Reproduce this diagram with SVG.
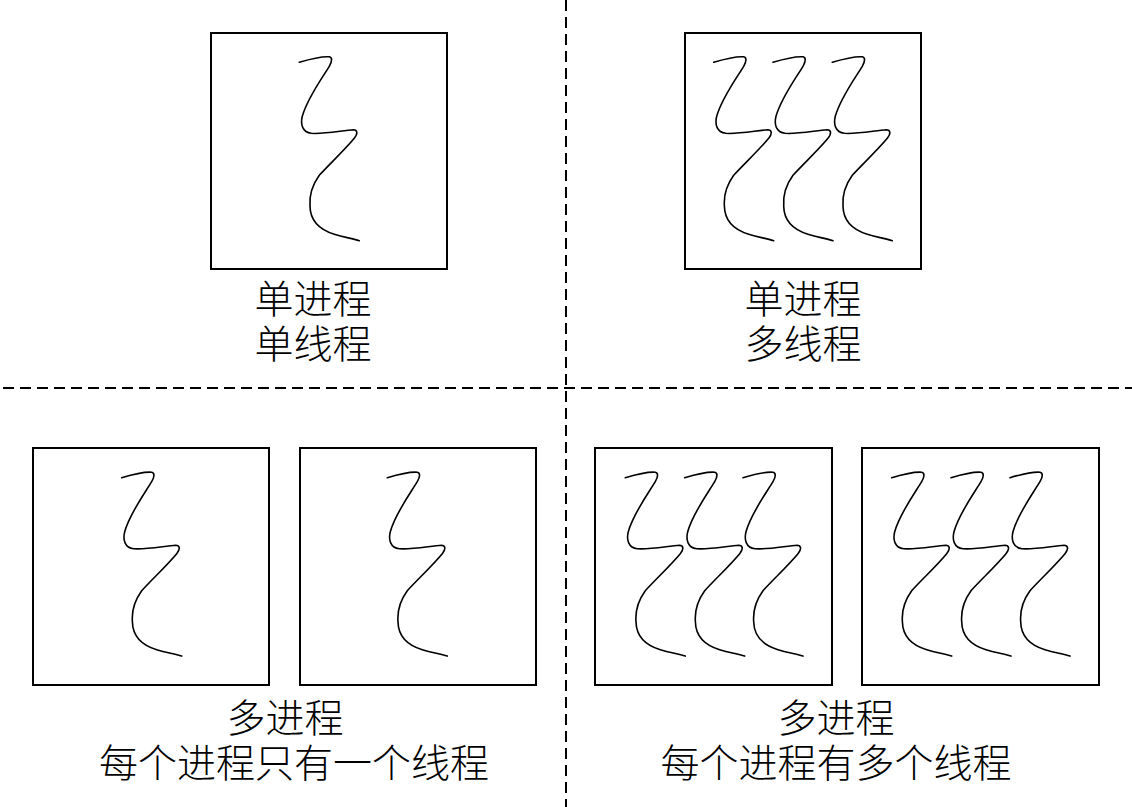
<svg xmlns="http://www.w3.org/2000/svg" xmlns:xlink="http://www.w3.org/1999/xlink" width="1132" height="807" viewBox="0 0 1132 807">
<style>
.box{fill:#fff;stroke:#000;stroke-width:2}
.th{fill:none;stroke:#000;stroke-width:1.6;stroke-linecap:round;stroke-linejoin:round}
.div{stroke:#000;stroke-width:2;stroke-dasharray:11,6}
.lbl{font-family:"Liberation Serif","Noto Sans CJK SC",serif;font-size:39px;font-weight:300;fill:#000;text-anchor:middle}
</style>
<defs>
<path id="thread" class="th" d="M0,0 C10,-3 24,-6 30,-5.5 C33,-5 33,-1 30,4 C22,17 8,36 3,54 C1,62 3,70 12,71 C25,72 44,68 54,67.5 C58,67.5 59,71 55,76 C45,88 30,102 20,113 C12,124 10,135 10.7,144 C11,160 22,168 35,172 C45,175 52,176 60,178.4"/>
</defs>
<rect width="1132" height="807" fill="#fff"/>
<g id="dividers">
<line class="div" x1="566" y1="0" x2="566" y2="807"/>
<line class="div" x1="3" y1="388" x2="1132" y2="388"/>
</g>
<g id="p1">
<rect class="box" x="211" y="33" width="236" height="236"/>
<use xlink:href="#thread" href="#thread" x="299.3" y="62.3"/>
<text class="lbl" x="313" y="313">单进程</text>
<text class="lbl" x="313" y="358">单线程</text>
</g>
<g id="p2">
<rect class="box" x="685" y="33" width="236" height="236"/>
<use xlink:href="#thread" href="#thread" x="713.7" y="62.3"/>
<use xlink:href="#thread" href="#thread" x="773" y="62.3"/>
<use xlink:href="#thread" href="#thread" x="832.3" y="62.3"/>
<text class="lbl" x="803" y="313">单进程</text>
<text class="lbl" x="803" y="358">多线程</text>
</g>
<g id="p3">
<rect class="box" x="33" y="448" width="236" height="237"/>
<use xlink:href="#thread" href="#thread" x="121.7" y="477.7"/>
</g>
<g id="p4">
<rect class="box" x="300" y="448" width="236" height="237"/>
<use xlink:href="#thread" href="#thread" x="387.3" y="477.7"/>
</g>
<g id="label-left">
<text class="lbl" x="285" y="732">多进程</text>
<text class="lbl" x="294" y="777">每个进程只有一个线程</text>
</g>
<g id="p5">
<rect class="box" x="595" y="448" width="237" height="237"/>
<use xlink:href="#thread" href="#thread" x="625.3" y="477.7"/>
<use xlink:href="#thread" href="#thread" x="684.7" y="477.7"/>
<use xlink:href="#thread" href="#thread" x="743" y="477.7"/>
</g>
<g id="p6">
<rect class="box" x="862" y="448" width="237" height="237"/>
<use xlink:href="#thread" href="#thread" x="891.7" y="477.7"/>
<use xlink:href="#thread" href="#thread" x="951" y="477.7"/>
<use xlink:href="#thread" href="#thread" x="1010" y="477.7"/>
</g>
<g id="label-right">
<text class="lbl" x="836" y="732">多进程</text>
<text class="lbl" x="836" y="777">每个进程有多个线程</text>
</g>
</svg>
